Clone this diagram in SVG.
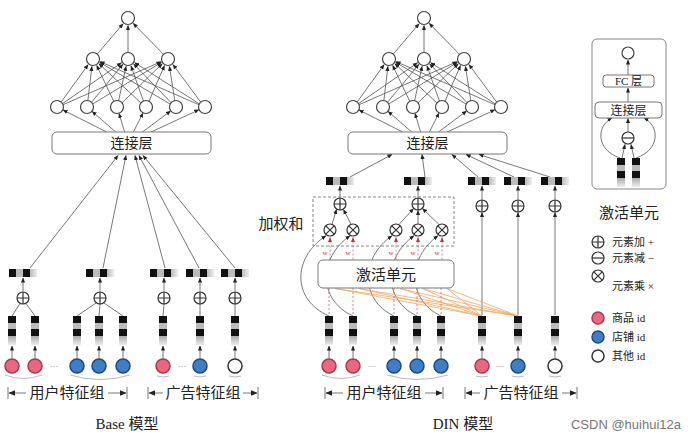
<svg xmlns="http://www.w3.org/2000/svg" xmlns:xlink="http://www.w3.org/1999/xlink" width="688" height="437" viewBox="0 0 688 437">
<style>
.n{fill:#fff;stroke:#444;stroke-width:1.2}
.l path,.l line{stroke:#555;stroke-width:0.8;fill:none}
.a path,.a line{marker-end:url(#ah)}
.a2 path{marker-end:url(#ah2)}
.box{fill:#fff;stroke:#777;stroke-width:1}
.t{font-family:"Liberation Serif","Noto Sans CJK SC",serif;fill:#222}
.pk{fill:#e8687f;stroke:#a8384e;stroke-width:1.5}
.bl{fill:#3f7dc4;stroke:#1d4a80;stroke-width:1.5}
.wh{fill:#fff;stroke:#333;stroke-width:1.5}
.or{stroke:#f0a860;stroke-width:0.8;fill:none}
.rd{stroke:#e06070;stroke-width:0.8;stroke-dasharray:2 2;fill:none}
.rda path{marker-end:url(#ahr)}
.br{stroke:#aaa;stroke-width:0.8;fill:none}
.sym{stroke:#333;stroke-width:1.2;fill:none}
</style>
<defs>
<marker id="ah" viewBox="0 0 6 6" refX="5.5" refY="3" markerWidth="5" markerHeight="5" orient="auto" markerUnits="userSpaceOnUse"><path d="M0,0.5 L6,3 L0,5.5z" fill="#222"/></marker>
<marker id="ah2" viewBox="0 0 6 6" refX="5.5" refY="3" markerWidth="7" markerHeight="7" orient="auto" markerUnits="userSpaceOnUse"><path d="M0,0.5 L6,3 L0,5.5z" fill="#222"/></marker>
<marker id="ahr" viewBox="0 0 6 6" refX="5.5" refY="3" markerWidth="5" markerHeight="5" orient="auto" markerUnits="userSpaceOnUse"><path d="M0,0.5 L6,3 L0,5.5z" fill="#d03040"/></marker>
<linearGradient id="fv" x1="0" y1="0" x2="0" y2="1"><stop offset="0" stop-color="#aaa"/><stop offset="1" stop-color="#eee"/></linearGradient>
<linearGradient id="fh" x1="0" y1="0" x2="1" y2="0"><stop offset="0" stop-color="#bbb"/><stop offset="1" stop-color="#eee"/></linearGradient>
<g id="plus"><circle r="6" fill="#fff" class="sym"/><path d="M-6,0H6M0,-6V6" class="sym"/></g>
<g id="minus"><circle r="6" fill="#fff" class="sym"/><path d="M-6,0H6" class="sym"/></g>
<g id="times"><circle r="6" fill="#fff" class="sym"/><path d="M-4.2,-4.2L4.2,4.2M-4.2,4.2L4.2,-4.2" class="sym"/></g>
<g id="col"><rect x="-4" y="0" width="8" height="7" fill="#111"/><rect x="-4" y="7" width="8" height="6" fill="#bbb"/><rect x="-4" y="13" width="8" height="7" fill="#111"/><rect x="-4" y="20" width="8" height="9" fill="url(#fv)"/></g>
<g id="bar"><rect x="0" y="0" width="7" height="8" fill="#111"/><rect x="7" y="0" width="7" height="8" fill="#bbb"/><rect x="14" y="0" width="7" height="8" fill="#111"/><rect x="21" y="0" width="7" height="8" fill="url(#fh)"/></g>
<g id="mlp">
<g class="l a">
<path d="M97.2,54.1L123.1,23.7"/><path d="M128,52.5L128,25.5"/><path d="M163.5,54.3L133.2,23.4"/>
<path d="M60.9,102.4L88.1,64.7"/><path d="M87.8,101.1L91.9,66.4"/><path d="M114,101.8L96.7,65.5"/><path d="M141.3,103.3L98.9,63.7"/><path d="M170.6,104.3L99.7,62.4"/><path d="M199.4,104.9L100,61.6"/>
<path d="M62.2,103.9L121.5,62.8"/><path d="M91.2,102.7L122.8,64.4"/><path d="M118.5,101.2L126.1,66.3"/><path d="M143.6,101.5L131,65.9"/><path d="M171.5,103.1L133.6,63.9"/><path d="M199.7,104.1L134.6,62.6"/>
<path d="M62.6,104.9L161,61.7"/><path d="M92.3,104.2L161.3,62.5"/><path d="M121.6,103.2L162.2,63.7"/><path d="M148.8,101.7L164.5,65.6"/><path d="M174.9,101.1L169.4,66.4"/><path d="M201,102.5L173,64.6"/>
<path d="M106.7,132L63,110"/><path d="M115.7,132L92.1,111.4"/><path d="M124.7,132L119,113.4"/><path d="M133.4,132L143,113"/><path d="M142.4,132L170.6,111"/><path d="M151.1,132L198.9,109.8"/>
</g>
<circle cx="128" cy="18" r="6.5" class="n"/>
<circle cx="93" cy="59" r="6.5" class="n"/><circle cx="128" cy="59" r="6.5" class="n"/><circle cx="168" cy="59" r="6.5" class="n"/>
<circle cx="57" cy="107" r="6.5" class="n"/><circle cx="87" cy="107" r="6.5" class="n"/><circle cx="117" cy="107" r="6.5" class="n"/><circle cx="146" cy="107" r="6.5" class="n"/><circle cx="176" cy="107" r="6.5" class="n"/><circle cx="205" cy="107" r="6.5" class="n"/>
<rect x="52" y="132" width="159" height="22" rx="5" class="box"/>
<text x="131.5" y="148" font-size="14" text-anchor="middle" class="t">连接层</text>
</g>
</defs>

<!-- ===== Base model ===== -->
<g id="base-mlp"><use xlink:href="#mlp" href="#mlp"/></g>
<g id="base-connectors" class="l">
<g class="a">
<path d="M30,268L118,155.5"/><path d="M103,268L126,155.5"/><path d="M165,268L135,155.5"/><path d="M199,268L139,155.5"/><path d="M235,268L143,155.5"/>
<path d="M23,291.5V278"/><path d="M100,291.5V278"/><path d="M164,291.5V278"/><path d="M200,291.5V278"/><path d="M235,291.5V278"/>
<path d="M12,358.5V346"/><path d="M35,358.5V346"/><path d="M77,358.5V346"/><path d="M99,358.5V346"/><path d="M123,358.5V346"/><path d="M163,358.5V346"/><path d="M200,358.5V346"/><path d="M235,358.5V346"/>
</g>
<path d="M20,303.5L12,316M26,303.5L35,316M96,303L77,316M100,304L99,316M104,303L123,316M164,304L163,316M200,304L200,316M235,304L235,316"/>
</g>
<g id="base-bars"><use href="#bar" x="9" y="269"/><use href="#bar" x="86" y="269"/><use href="#bar" x="150" y="269"/><use href="#bar" x="186" y="269"/><use href="#bar" x="221" y="269"/></g>
<g id="base-sums"><use href="#plus" x="23" y="298"/><use href="#plus" x="100" y="298"/><use href="#plus" x="164" y="298"/><use href="#plus" x="200" y="298"/><use href="#plus" x="235" y="298"/></g>
<g id="base-embeds"><use href="#col" x="12" y="316"/><use href="#col" x="35" y="316"/><use href="#col" x="77" y="316"/><use href="#col" x="99" y="316"/><use href="#col" x="123" y="316"/><use href="#col" x="163" y="316"/><use href="#col" x="200" y="316"/><use href="#col" x="235" y="316"/></g>
<g id="base-ids">
<circle cx="12" cy="366" r="7" class="pk"/><circle cx="35" cy="366" r="7" class="pk"/>
<circle cx="77" cy="366" r="7" class="bl"/><circle cx="99" cy="366" r="7" class="bl"/><circle cx="123" cy="366" r="7" class="bl"/>
<circle cx="163" cy="366" r="7" class="pk"/><circle cx="200" cy="366" r="7" class="bl"/><circle cx="235" cy="366" r="7" class="wh"/>
<text x="54" y="369" font-size="9" fill="#999" text-anchor="middle" font-family="Liberation Sans, sans-serif">···</text>
<text x="182" y="369" font-size="9" fill="#999" text-anchor="middle" font-family="Liberation Sans, sans-serif">···</text>
<path class="br" d="M5,375Q23,382 42,375M70,375Q100,384 130,375M157,376Q163,378 169,376M194,376Q200,378 206,376M229,376Q235,378 241,376"/>
</g>
<g id="base-groups">
<g class="l"><path d="M8,387V399M127,387V399M148,387V399M258,387V399"/></g>
<g class="l a2"><path d="M26,393H9"/><path d="M108,393H126"/><path d="M163,393H149"/><path d="M243,393H257"/></g>
<text x="67" y="398" font-size="15" text-anchor="middle" class="t">用户特征组</text>
<text x="203" y="398" font-size="15" text-anchor="middle" class="t">广告特征组</text>
<text x="127" y="429" font-size="15" text-anchor="middle" class="t">Base 模型</text>
</g>

<!-- ===== DIN model ===== -->
<g id="din-mlp" transform="translate(296,0)"><use xlink:href="#mlp" href="#mlp"/></g>
<g id="din-connectors">
<g class="l a">
<path d="M350,177L392,154.5"/><path d="M425,177L422,154.5"/><path d="M478,177L452,154.5"/><path d="M514,177L466,154.5"/><path d="M550,177L479,154.5"/>
<path d="M340,197.5V186"/><path d="M418,197.5V186"/><path d="M482,199.5V186"/><path d="M518,199.5V186"/><path d="M555,199.5V186"/>
<path d="M482,315V212.5"/><path d="M518,315V212.5"/><path d="M555,315V212.5"/>
<path d="M332,224.3L336.5,209.5"/><path d="M351,224.3L343.5,209.5"/><path d="M399,224.5L413.5,208.5"/><path d="M418,224L418,210.5"/><path d="M439,224.5L422.5,208.5"/>
<path d="M329,316C292,300 292,258 326,235.8"/><path d="M353,316C318,300 318,258 350,235.8"/><path d="M394,316C360,300 360,258 392,235.8"/><path d="M417,316C383,300 383,258 414,235.8"/><path d="M441,316C407,300 407,258 438,235.8"/>
<path d="M329,358.5V346"/><path d="M353,358.5V346"/><path d="M394,358.5V346"/><path d="M417,358.5V346"/><path d="M441,358.5V346"/><path d="M482,358.5V346"/><path d="M518,358.5V346"/><path d="M555,358.5V346"/>
</g>
<path class="or" d="M482,316L335,288.5M482,316L359,288.5M482,316L400,288.5M482,316L423,288.5M482,316L447,288.5M518,316L335,288.5M518,316L359,288.5M518,316L400,288.5M518,316L423,288.5M518,316L447,288.5"/>
<path class="rd" d="M329,288V315M353,288V315M394,288V315M417,288V315M441,288V315"/>
<g class="rda"><path class="rd" d="M330,259.5V237.5"/><path class="rd" d="M353,259.5V237.5"/><path class="rd" d="M396,259.5V237.5"/><path class="rd" d="M418,259.5V237.5"/><path class="rd" d="M442,259.5V237.5"/></g>
</g>
<g id="din-weights" font-size="7" fill="#d03040" font-family="Liberation Serif, serif" text-anchor="middle">
<text x="325" y="255">w</text><text x="348" y="255">w</text><text x="391" y="255">w</text><text x="413" y="255">w</text><text x="437" y="255">w</text>
</g>
<g id="din-weighted-sum"><rect x="313" y="197" width="141" height="49" fill="none" stroke="#888" stroke-width="1" stroke-dasharray="3 2"/>
<text x="281" y="229" font-size="15" text-anchor="middle" class="t">加权和</text></g>
<g id="din-activation"><rect x="318" y="260" width="136" height="28" rx="5" class="box"/><text x="386" y="280" font-size="15" text-anchor="middle" class="t">激活单元</text></g>
<g id="din-products"><use href="#times" x="330" y="230"/><use href="#times" x="353" y="230"/><use href="#times" x="396" y="230"/><use href="#times" x="418" y="230"/><use href="#times" x="442" y="230"/></g>
<g id="din-sums"><use href="#plus" x="340" y="204"/><use href="#plus" x="418" y="204"/><use href="#plus" x="482" y="206"/><use href="#plus" x="518" y="206"/><use href="#plus" x="555" y="206"/></g>
<g id="din-bars"><use href="#bar" x="326" y="177"/><use href="#bar" x="404" y="177"/><use href="#bar" x="468" y="177"/><use href="#bar" x="504" y="177"/><use href="#bar" x="541" y="177"/></g>
<g id="din-embeds"><use href="#col" x="329" y="316"/><use href="#col" x="353" y="316"/><use href="#col" x="394" y="316"/><use href="#col" x="417" y="316"/><use href="#col" x="441" y="316"/><use href="#col" x="482" y="316"/><use href="#col" x="518" y="316"/><use href="#col" x="555" y="316"/></g>
<g id="din-ids">
<circle cx="329" cy="366" r="7" class="pk"/><circle cx="353" cy="366" r="7" class="pk"/>
<circle cx="394" cy="366" r="7" class="bl"/><circle cx="417" cy="366" r="7" class="bl"/><circle cx="441" cy="366" r="7" class="bl"/>
<circle cx="482" cy="366" r="7" class="pk"/><circle cx="518" cy="366" r="7" class="bl"/><circle cx="555" cy="366" r="7" class="wh"/>
<text x="372" y="369" font-size="9" fill="#999" text-anchor="middle" font-family="Liberation Sans, sans-serif">···</text>
<text x="500" y="369" font-size="9" fill="#999" text-anchor="middle" font-family="Liberation Sans, sans-serif">···</text>
<path class="br" d="M322,375Q341,382 360,375M387,375Q417,384 448,375M476,376Q482,378 488,376M512,376Q518,378 524,376M549,376Q555,378 561,376"/>
</g>
<g id="din-groups">
<g class="l"><path d="M325,387V399M443,387V399M465,387V399M577,387V399"/></g>
<g class="l a2"><path d="M343,393H326"/><path d="M425,393H442"/><path d="M480,393H466"/><path d="M562,393H576"/></g>
<text x="384" y="398" font-size="15" text-anchor="middle" class="t">用户特征组</text>
<text x="521" y="398" font-size="15" text-anchor="middle" class="t">广告特征组</text>
<text x="463" y="429" font-size="15" text-anchor="middle" class="t">DIN 模型</text>
</g>

<!-- ===== Activation unit inset ===== -->
<g id="act-unit">
<rect x="592" y="39" width="74" height="150" rx="5" fill="#fff" stroke="#888" stroke-width="1"/>
<g class="l a"><path d="M628,75V60"/><path d="M628,102V88"/><path d="M628,132V118.5"/><path d="M622,158L625,144.5"/><path d="M634,158L631,144.5"/>
<path d="M620,158C596,150 596,126 612,118"/><path d="M636,158C660,150 660,126 644,118"/></g>
<circle cx="628" cy="53" r="6" class="n"/>
<rect x="603" y="75" width="51" height="12" rx="3" class="box"/><text x="628.5" y="85" font-size="11" text-anchor="middle" class="t">FC 层</text>
<rect x="595" y="102" width="67" height="16" rx="4" class="box"/><text x="628.5" y="114.5" font-size="12" text-anchor="middle" class="t">连接层</text>
<use href="#minus" x="628" y="138"/>
<use href="#col" x="621" y="158"/><use href="#col" x="636" y="158"/>
<text x="629" y="218" font-size="15" text-anchor="middle" class="t">激活单元</text>
</g>

<!-- ===== Legend ===== -->
<g id="legend" font-size="11">
<use href="#plus" x="598" y="242"/><text x="612" y="246" class="t" font-size="11">元素加 +</text>
<use href="#minus" x="598" y="258"/><text x="612" y="262" class="t" font-size="11">元素减 −</text>
<use href="#times" x="598" y="276"/><text x="612" y="290" class="t" font-size="11">元素乘 ×</text>
<circle cx="598" cy="318" r="6" class="pk"/><text x="612" y="322" class="t" font-size="11">商品 id</text>
<circle cx="598" cy="337" r="6" class="bl"/><text x="612" y="341" class="t" font-size="11">店铺 id</text>
<circle cx="598" cy="356" r="6" class="wh"/><text x="612" y="360" class="t" font-size="11">其他 id</text>
</g>
<text x="681" y="429" font-size="13" text-anchor="end" fill="#777" font-family="Liberation Sans, sans-serif">CSDN @huihui12a</text>
</svg>
